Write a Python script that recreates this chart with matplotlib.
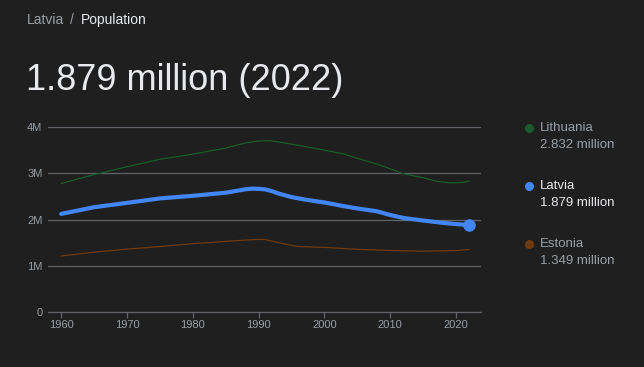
import matplotlib
matplotlib.use("Agg")
import matplotlib.pyplot as plt
from matplotlib.ticker import FixedLocator
from matplotlib.lines import Line2D

plt.rcParams['font.family'] = ['Liberation Sans', 'DejaVu Sans']

latvia_years = [1960, 1965, 1970, 1975, 1980, 1985, 1988, 1989, 1990, 1991, 1992, 1993, 1995, 1997, 2000, 2003, 2005, 2008, 2010, 2012, 2015, 2018, 2020, 2022]
latvia_vals = [2.121, 2.266, 2.359, 2.456, 2.512, 2.579, 2.653, 2.667, 2.663, 2.651, 2.614, 2.563, 2.485, 2.432, 2.368, 2.287, 2.239, 2.177, 2.097, 2.034, 1.978, 1.927, 1.901, 1.879]

lith_years = [1960, 1965, 1970, 1975, 1980, 1985, 1988, 1990, 1991, 1992, 1995, 2000, 2003, 2005, 2008, 2010, 2012, 2015, 2017, 2019, 2020, 2021, 2022]
lith_vals = [2.779, 2.971, 3.140, 3.302, 3.413, 3.545, 3.655, 3.698, 3.704, 3.700, 3.629, 3.500, 3.415, 3.323, 3.198, 3.097, 2.988, 2.905, 2.828, 2.794, 2.795, 2.800, 2.832]

est_years = [1960, 1965, 1970, 1975, 1980, 1985, 1988, 1990, 1991, 1992, 1994, 1996, 2000, 2005, 2010, 2015, 2020, 2022]
est_vals = [1.211, 1.294, 1.360, 1.415, 1.477, 1.527, 1.556, 1.570, 1.567, 1.534, 1.469, 1.415, 1.397, 1.355, 1.331, 1.315, 1.329, 1.349]

x_ticks = [1960, 1970, 1980, 1990, 2000, 2010, 2020]
y_ticks = [0, 1, 2, 3, 4]
y_labels = ['0', '1M', '2M', '3M', '4M']

legend_names = ['Lithuania', 'Latvia', 'Estonia']
legend_values = ['2.832 million', '1.879 million', '1.349 million']

BG = '#1f1f1f'
BLUE = '#4285f4'
GREEN = '#1a5c2a'
BROWN = '#703a0e'
GRID = '#5f6368'
TXT = '#9aa0a6'
WHITE = '#e8eaed'

fig = plt.figure(figsize=(6.44, 3.67), dpi=100, facecolor=BG)
ax = fig.add_axes([48/644, 1-312/367, (481-48)/644, (312-127)/367])
ax.set_facecolor(BG)

ax.plot(lith_years, lith_vals, color=GREEN, lw=0.9, solid_capstyle='round')
ax.plot(est_years, est_vals, color=BROWN, lw=0.9, solid_capstyle='round')
ax.plot(latvia_years, latvia_vals, color=BLUE, lw=3.0, solid_capstyle='round', solid_joinstyle='round')
ax.plot([latvia_years[-1]], [latvia_vals[-1]], 'o', color=BLUE, ms=8, clip_on=False, zorder=5)

ax.set_xlim(1958.0, 2023.8)
ax.set_ylim(0, 4)
ax.yaxis.set_major_locator(FixedLocator(y_ticks))
ax.set_yticklabels(y_labels)
ax.xaxis.set_major_locator(FixedLocator(x_ticks))
ax.set_xticklabels([str(t) for t in x_ticks])
ax.grid(axis='y', color=GRID, lw=0.9)
ax.set_axisbelow(True)
for s in ['top', 'right', 'left']:
    ax.spines[s].set_visible(False)
ax.spines['bottom'].set_color(GRID)
ax.spines['bottom'].set_linewidth(0.9)
ax.tick_params(axis='y', length=0, pad=4, labelsize=8, labelcolor=TXT)
ax.tick_params(axis='x', length=4, width=0.9, color=GRID, pad=2, labelsize=8, labelcolor=TXT)

# header
fig.text(27/644, 1-20/367, 'Latvia', color=TXT, fontsize=10, va='center', ha='left')
fig.text(70/644, 1-20/367, '/', color=TXT, fontsize=10, va='center', ha='left')
fig.text(81/644, 1-20/367, 'Population', color=WHITE, fontsize=10, va='center', ha='left')
fig.text(26/644, 1-80/367, '1.879 million (2022)', color=WHITE, fontsize=26, va='center', ha='left')

# legend
leg_colors = [GREEN, BLUE, BROWN]
leg_y = [128, 186, 244]
for name, val, c, y in zip(legend_names, legend_values, leg_colors, leg_y):
    fig.add_artist(Line2D([529/644], [1-y/367], marker='o', ms=5.5, color=c, lw=0,
                          transform=fig.transFigure))
    tc = WHITE if name == 'Latvia' else TXT
    fig.text(540/644, 1-y/367, name, color=tc, fontsize=9.5, va='center', ha='left')
    fig.text(540/644, 1-(y+17)/367, val, color=tc, fontsize=9.5, va='center', ha='left')

fig.savefig('out.png', dpi=100, facecolor=BG)
